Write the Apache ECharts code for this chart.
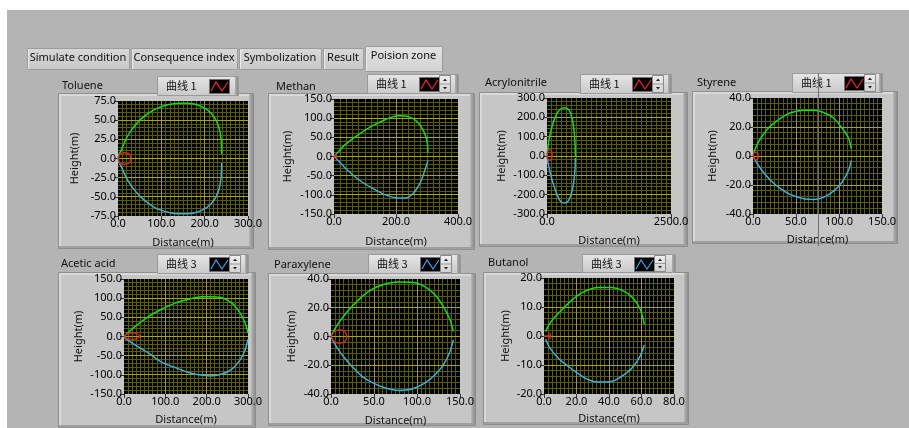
<!DOCTYPE html>
<html>
<head>
<meta charset="utf-8">
<script src="https://cdn.jsdelivr.net/npm/echarts@6.0.0/dist/echarts.min.js"></script>
<style>
  html, body { margin: 0; padding: 0; background: #fff; }
  #chart { width: 909px; height: 428px; }
</style>
</head>
<body>
<div id="chart"></div>
<script>
  // --- data ---
  const tabLabels = ['Simulate condition', 'Consequence index', 'Symbolization', 'Result', 'Poision zone']
  const titles = ['Toluene', 'Methan', 'Acrylonitrile', 'Styrene', 'Acetic acid', 'Paraxylene', 'Butanol']
  const legendLabels = ['曲线 1', '曲线 1', '曲线 1', '曲线 1', '曲线 3', '曲线 3', '曲线 3']
  const xMaxes = [300, 400, 2500, 150, 300, 150, 80]
  const xSteps = [100, 200, 2500, 50, 100, 50, 20]
  const yMaxes = [75, 150, 300, 40, 150, 40, 20]
  const ySteps = [25, 50, 100, 20, 50, 20, 10]

  const tolueneUpper = [[0, 0], [2, 5], [7.7, 11], [18, 25], [31, 37], [54, 52], [85, 64], [115, 70], [140, 72], [162, 72], [192, 68], [215, 59], [231, 44], [238, 24], [239, 6]]
  const tolueneLower = [[0, 0], [2, -5], [8, -11], [18, -24], [31, -36], [54, -51], [85, -64], [115, -70], [140, -72], [162, -72], [192, -68], [215, -59], [231, -44], [238, -24], [239, -6]]
  const tolueneRed = [[1, 0], [3, 5], [8, 7], [15, 7.5], [22, 7], [27, 5], [29, 0], [27, -5], [22, -7], [15, -7.5], [8, -7], [3, -5], [1, 0]]

  const methanUpper = [[0, 0], [10, 9], [36, 31], [79, 57], [122, 79], [165, 96], [208, 106], [240, 104], [267, 92], [289, 66], [300, 40], [303, 9]]
  const methanLower = [[0, 0], [10, -8], [36, -30], [79, -60], [122, -82], [165, -100], [208, -108], [230, -108], [257, -95], [278, -69], [294, -34], [303, -10]]
  const methanRed = [[0, 0], [3, 4], [7, 3], [8, 0], [7, -3], [3, -4], [0, 0]]

  const acrylUpper = [[0, 0], [34, 76], [101, 153], [189, 214], [276, 243], [357, 250], [438, 240], [505, 197], [546, 128], [566, 59], [573, 0]]
  const acrylLower = [[573, -10], [559, -88], [512, -174], [438, -229], [357, -243], [276, -236], [189, -191], [101, -122], [34, -53], [0, -5]]
  const acrylRed = [[4, 5], [15, 25], [54, 33], [93, 25], [104, 5], [93, -15], [54, -23], [15, -15], [4, 5]]

  const styreneUpper = [[0.8, 2], [4.7, 7.8], [10.5, 13.6], [20, 20.5], [32, 26], [43, 29.7], [59, 31.5], [70.5, 31.5], [82, 30], [94, 26], [103.5, 19.3], [111, 12.4], [114.3, 5]]
  const styreneLower = [[0.8, -1], [4.7, -5], [10.5, -10], [20, -16.5], [32, -22.5], [43, -26.5], [59, -29.5], [70.5, -30], [82, -28.5], [94, -24], [103.5, -18], [111, -10], [114.3, -3]]
  const styreneRed = [[0, 0], [2, 2.5], [5, 2.5], [6, 0], [5, -2.5], [2, -2.5], [0, 0]]

  const aceticUpper = [[0, 0], [26.7, 26], [59, 52], [91, 71], [124, 87], [156, 97], [188, 104], [213, 104], [237, 101], [261, 87], [281, 61], [293, 35], [300, 9]]
  const aceticLower = [[0, -2], [26.7, -22], [59, -43], [91, -67], [124, -81], [156, -94], [180, -100], [209, -103], [237, -98], [261, -85], [281, -61], [293, -35], [300, -7]]
  const aceticRed = [[0, 0], [6, 6], [15, 9], [25, 9], [34, 6], [38, 1], [34, -4], [25, -7], [15, -7], [6, -5], [0, 0]]

  const paraUpper = [[0, 0], [5, 5.8], [12.8, 12.7], [24.4, 20.8], [36, 27.7], [47.5, 32.8], [63, 36.5], [78.5, 37.9], [94, 37.7], [109, 34.7], [121, 28.9], [130.7, 20.8], [138.4, 11.6], [142.2, 3.5]]
  const paraLower = [[0, -0.5], [5, -5.8], [12.8, -12.7], [24.4, -20.8], [36, -27.7], [47.5, -31.9], [63, -35.8], [78.5, -37.5], [94, -36.5], [109, -32.4], [121, -26.6], [130.7, -19.7], [138.4, -10.4], [142.2, -2.3]]
  const paraRed = [[0, 0], [4, 3.5], [10, 4.8], [16, 3.5], [18.5, 0], [16, -3.5], [10, -4.8], [4, -3.5], [0, 0]]

  const butanolUpper = [[1, 1.5], [3, 3.8], [6.8, 6.6], [11.9, 9.5], [17, 12.3], [23.2, 14.9], [29.3, 16.3], [33.4, 16.7], [41.6, 16.7], [47.8, 15.8], [54, 13.5], [59, 9.5], [61.7, 4.1]]
  const butanolLower = [[1, -1.1], [3.7, -4.2], [8.8, -7.7], [15, -10.5], [21, -13], [27.3, -15.1], [33.4, -15.9], [41.6, -15.7], [47.8, -13.9], [54, -11.1], [59, -7.1], [61.7, -3.1]]
  const butanolRed = [[0, 0], [4.5, 0], [3.8, 0], [3.8, 1.2], [3.8, -1.2]]

  const uppers = [tolueneUpper, methanUpper, acrylUpper, styreneUpper, aceticUpper, paraUpper, butanolUpper]
  const lowers = [tolueneLower, methanLower, acrylLower, styreneLower, aceticLower, paraLower, butanolLower]
  const reds = [tolueneRed, methanRed, acrylRed, styreneRed, aceticRed, paraRed, butanolRed]

  // --- layout (pixels) ---
  const layout = [
    {rect: [118, 101, 130, 115], panel: [58, 93, 195, 155], title: [62, 86], btn: [157, 76, 81, 19], spin: false, yGap: 38, xGap: 21, xMinor: 10, yMinor: 5},
    {rect: [334, 99, 124, 115], panel: [268, 93, 206, 156], title: [276, 87], btn: [367, 74, 91, 19], spin: true, yGap: 41, xGap: 22, xMinor: 10, yMinor: 5},
    {rect: [547, 98, 124, 116], panel: [479, 92, 208, 154], title: [485, 83], btn: [580, 74, 91, 19], spin: true, yGap: 40, xGap: 21, xMinor: 25, yMinor: 5},
    {rect: [753, 98, 129, 116], panel: [692, 91, 205, 152], title: [697, 83], btn: [792, 73, 90, 19], spin: true, yGap: 35, xGap: 20, xMinor: 10, yMinor: 5},
    {rect: [124, 279, 124, 115], panel: [58, 272, 197, 155], title: [61, 264], btn: [157, 254, 91, 19], spin: true, yGap: 40, xGap: 20, xMinor: 10, yMinor: 5},
    {rect: [331, 279, 129, 115], panel: [268, 273, 207, 152], title: [274, 265], btn: [368, 254, 92, 19], spin: true, yGap: 34, xGap: 21, xMinor: 10, yMinor: 5},
    {rect: [544, 278, 130, 116], panel: [483, 272, 205, 152], title: [488, 263], btn: [582, 254, 93, 18], spin: true, yGap: 33, xGap: 19, xMinor: 8, yMinor: 5}
  ]
  const tabRects = [[27, 48, 102, 21], [131, 48, 106, 21], [239, 48, 82, 21], [323, 48, 40, 21], [365, 46, 77, 25]]
  const legendColors = ['#ff2020', '#ff2020', '#ff2020', '#ff2020', '#30a8f0', '#30a8f0', '#30a8f0']

  const FONT = "'Noto Sans', 'Open Sans', sans-serif"
  const CJK = "'Noto Sans CJK SC', 'Noto Sans', sans-serif"
  const MINOR = '#5c5c00'
  const MAJOR_H = '#a8a600'
  const MAJOR_V = '#a08a6e'

  function fmt (v) { return v.toFixed(1) }

  function text (x, y, str, extra) {
    return Object.assign({
      type: 'text', x: x, y: y, z: 3, silent: true,
      style: {
        text: str, fill: '#111', font: '11px ' + FONT,
        textAlign: 'left', align: 'left', textVerticalAlign: 'middle', verticalAlign: 'middle'
      }
    }, extra || {})
  }

  function vgrad (a, b) {
    return new echarts.graphic.LinearGradient(0, 0, 0, 1, [{offset: 0, color: a}, {offset: 1, color: b}])
  }
  function hgrad (a, b) {
    return new echarts.graphic.LinearGradient(0, 0, 1, 0, [{offset: 0, color: a}, {offset: 1, color: b}])
  }

  let graphics = []
  // window background
  graphics.push({type: 'rect', z: 0, silent: true, shape: {x: 7, y: 10, width: 902, height: 418}, style: {fill: '#b4b4b4'}})

  // tabs
  tabRects.forEach(function (r, i) {
    let active = i === tabRects.length - 1
    graphics.push({
      type: 'rect', z: 1, silent: true,
      shape: {x: r[0] + 0.5, y: r[1] + 0.5, width: r[2], height: r[3]},
      style: {fill: active ? vgrad('#e2e2e2', '#d2d2d2') : vgrad('#d8d8d8', '#c8c8c8'), stroke: '#9c9c9c', lineWidth: 1}
    })
    graphics.push({type: 'line', z: 1, silent: true, shape: {x1: r[0] + 1.5, y1: r[1] + 1.5, x2: r[0] + 1.5, y2: r[1] + r[3]}, style: {stroke: '#ececec', lineWidth: 1}})
    graphics.push(text(r[0] + r[2] / 2, r[1] + 10, tabLabels[i], {
      style: {text: tabLabels[i], fill: '#111', font: '11px ' + FONT, textAlign: 'center', align: 'center', textVerticalAlign: 'middle', verticalAlign: 'middle'}
    }))
  })

  // panels, titles and legend buttons
  layout.forEach(function (l, i) {
    let p = l.panel
    graphics.push({type: 'rect', z: 1, silent: true, shape: {x: p[0] + 0.5, y: p[1] + 0.5, width: p[2], height: p[3]}, style: {fill: '#c6c6c6', stroke: '#8e8e8e', lineWidth: 1}})
    graphics.push({type: 'rect', z: 1, silent: true, shape: {x: p[0] + 1, y: p[1] + 1, width: 2, height: p[3] - 1}, style: {fill: '#d9d9d9'}})
    graphics.push({type: 'rect', z: 1, silent: true, shape: {x: p[0] + 1, y: p[1] + 1, width: p[2] - 1, height: 2}, style: {fill: '#d9d9d9'}})
    graphics.push({type: 'rect', z: 1, silent: true, shape: {x: p[0] + p[2] - 4, y: p[1] + 1, width: 4, height: p[3] - 1}, style: {fill: hgrad('#b8b8b8', '#8c8c8c')}})
    graphics.push({type: 'rect', z: 1, silent: true, shape: {x: p[0] + 1, y: p[1] + p[3] - 2, width: p[2] - 1, height: 2}, style: {fill: '#a0a0a0'}})

    graphics.push(text(l.title[0], l.title[1], titles[i]))

    let b = l.btn
    graphics.push({type: 'rect', z: 1, silent: true, shape: {x: b[0] + 0.5, y: b[1] + 0.5, width: b[2], height: b[3]}, style: {fill: vgrad('#e6e6e6', '#c8c8c8'), stroke: '#9a9a9a', lineWidth: 1}})
    graphics.push({type: 'rect', z: 2, silent: true, shape: {x: b[0] + b[2] - 3, y: b[1] + 1, width: 3, height: b[3]}, style: {fill: hgrad('#b0b0b0', '#8a8a8a')}})
    graphics.push(text(b[0] + 9, b[1] + b[3] / 2 + 0.5, legendLabels[i], {
      style: {text: legendLabels[i], fill: '#111', font: '11px ' + CJK, textAlign: 'left', align: 'left', textVerticalAlign: 'middle', verticalAlign: 'middle'}
    }))
    let ix = b[0] + 52
    let iy = b[1] + 3
    graphics.push({type: 'rect', z: 2, silent: true, shape: {x: ix + 0.5, y: iy + 0.5, width: 20, height: 14}, style: {fill: '#000', stroke: '#707070', lineWidth: 1}})
    graphics.push({type: 'polyline', z: 3, silent: true, shape: {points: [[ix + 2, iy + 12], [ix + 7, iy + 3], [ix + 13, iy + 12], [ix + 19, iy + 3]]}, style: {stroke: legendColors[i], lineWidth: 1.2, fill: null}})
    if (l.spin) {
      let sx = b[0] + 72
      let sy = b[1] + 1
      let sh = b[3] - 2
      graphics.push({type: 'rect', z: 2, silent: true, shape: {x: sx + 0.5, y: sy + 0.5, width: 11, height: sh}, style: {fill: vgrad('#f0f0f0', '#d0d0d0'), stroke: '#8a8a8a', lineWidth: 1}})
      graphics.push({type: 'line', z: 3, silent: true, shape: {x1: sx + 1, y1: sy + sh / 2 + 0.5, x2: sx + 11, y2: sy + sh / 2 + 0.5}, style: {stroke: '#9a9a9a', lineWidth: 1}})
      graphics.push({type: 'polygon', z: 3, silent: true, shape: {points: [[sx + 4, sy + 6], [sx + 8, sy + 6], [sx + 6, sy + 3.5]]}, style: {fill: '#222'}})
      graphics.push({type: 'polygon', z: 3, silent: true, shape: {points: [[sx + 4, sy + sh - 5], [sx + 8, sy + sh - 5], [sx + 6, sy + sh - 2.5]]}, style: {fill: '#222'}})
    }
  })

  // seam in the screenshot across the Styrene panel
  graphics.push({type: 'line', z: 10, silent: true, shape: {x1: 818.5, y1: 73, x2: 818.5, y2: 246}, style: {stroke: '#6e6e6e', lineWidth: 1}})

  let grids = []
  let xAxes = []
  let yAxes = []
  let series = []

  layout.forEach(function (l, i) {
    grids.push({
      left: l.rect[0], top: l.rect[1], width: l.rect[2], height: l.rect[3],
      show: true, backgroundColor: '#000', borderWidth: 0, z: 3
    })
    xAxes.push({
      gridIndex: i, type: 'value', position: 'bottom', min: 0, max: xMaxes[i], interval: xSteps[i], z: 5,
      name: 'Distance(m)', nameLocation: 'middle', nameGap: l.xGap,
      nameTextStyle: {color: '#111', fontSize: 11, fontFamily: FONT},
      axisLine: {show: false, onZero: false},
      axisTick: {show: true, length: 4, interval: 0, lineStyle: {color: '#333'}},
      axisLabel: {margin: 2, interval: 0, color: '#000', fontSize: 11, fontFamily: FONT, formatter: fmt, showMinLabel: true, showMaxLabel: true},
      splitLine: {show: false}
    })
    yAxes.push({
      gridIndex: i, type: 'value', position: 'left', min: -yMaxes[i], max: yMaxes[i], interval: ySteps[i], z: 5,
      name: 'Height(m)', nameLocation: 'middle', nameGap: l.yGap,
      nameTextStyle: {color: '#111', fontSize: 11, fontFamily: FONT},
      axisLine: {show: false, onZero: false},
      axisTick: {show: true, length: 4, interval: 0, lineStyle: {color: '#333'}},
      axisLabel: {margin: 2, interval: 0, color: '#000', fontSize: 11, fontFamily: FONT, formatter: fmt, showMinLabel: true, showMaxLabel: true},
      splitLine: {show: false}
    })
    let common = {type: 'line', xAxisIndex: i, yAxisIndex: i, showSymbol: false, silent: true, z: 6, animation: false}
    series.push(Object.assign({data: uppers[i], smooth: 0.3, lineStyle: {color: '#10e010', width: 1.5}}, common))
    series.push(Object.assign({data: lowers[i], smooth: 0.3, lineStyle: {color: '#38b0e8', width: 1.5}}, common))
    series.push(Object.assign({data: reds[i], smooth: 0.2, lineStyle: {color: '#e82020', width: 1.3}}, common))
  })

  let chart = echarts.init(document.getElementById('chart'))
  chart.setOption({
    animation: false,
    backgroundColor: '#fff',
    graphic: {elements: graphics},
    grid: grids,
    xAxis: xAxes,
    yAxis: yAxes,
    series: series
  })

  // crisp plot grid, placed through each grid's own axes
  function snap (v) { return Math.floor(v) + 0.5 }
  let gridLines = []
  layout.forEach(function (l, i) {
    let gx = l.rect[0]
    let gy = l.rect[1]
    let gw = l.rect[2]
    let gh = l.rect[3]
    let xMinorStep = xSteps[i] / l.xMinor
    let yMinorStep = ySteps[i] / l.yMinor
    let nx = Math.round(xMaxes[i] / xMinorStep)
    let ny = Math.round(2 * yMaxes[i] / yMinorStep)
    let majors = []
    for (let k = 1; k < nx; k++) {
      let px = snap(chart.convertToPixel({xAxisIndex: i}, k * xMinorStep))
      let line = {type: 'line', silent: true, shape: {x1: px, y1: gy, x2: px, y2: gy + gh}, style: {lineWidth: 1}}
      if (k % l.xMinor === 0) {
        line.z = 5; line.style.stroke = MAJOR_V; majors.push(line)
      } else {
        line.z = 4; line.style.stroke = MINOR; gridLines.push(line)
      }
    }
    for (let k = 1; k < ny; k++) {
      let py = snap(chart.convertToPixel({yAxisIndex: i}, -yMaxes[i] + k * yMinorStep))
      let line = {type: 'line', silent: true, shape: {x1: gx, y1: py, x2: gx + gw, y2: py}, style: {lineWidth: 1}}
      if (k % l.yMinor === 0) {
        line.z = 5; line.style.stroke = MAJOR_H; majors.push(line)
      } else {
        line.z = 4; line.style.stroke = MINOR; gridLines.push(line)
      }
    }
    gridLines = gridLines.concat(majors)
  })
  chart.setOption({graphic: {elements: graphics.concat(gridLines)}})
</script>
</body>
</html>
